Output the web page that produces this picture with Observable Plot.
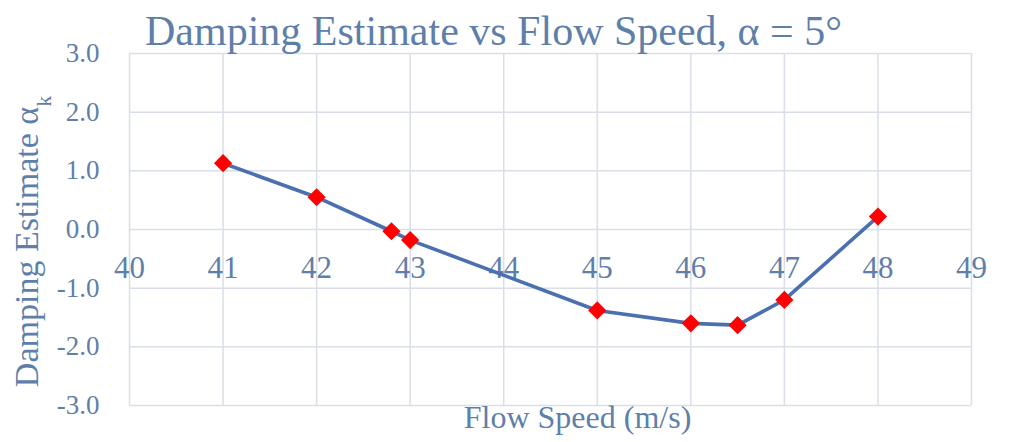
<!DOCTYPE html>
<html>
<head>
<meta charset="utf-8">
<script src="https://cdn.jsdelivr.net/npm/d3@7"></script>
<script src="https://cdn.jsdelivr.net/npm/@observablehq/plot@0.6"></script>
<style>
  html, body { margin: 0; padding: 0; background: #fff; }
  #wrap { position: relative; width: 1024px; height: 442px; overflow: hidden; }
  #title { position: absolute; top: 10px; left: 145px; font-family: "Liberation Serif", "Times New Roman", serif; font-size: 42px; line-height: 42px; color: #5f7fab; white-space: nowrap; z-index: 2; }
  #chart { position: absolute; top: 20px; left: 0; }
</style>
</head>
<body>
<div id="wrap">
  <div id="title">Damping Estimate vs Flow Speed, α = 5°</div>
  <div id="chart"></div>
</div>
<script>
const flowSpeed = [41, 42, 42.8, 43, 45, 46, 46.5, 47, 48];
const damping = [1.13, 0.55, -0.03, -0.18, -1.38, -1.60, -1.63, -1.20, 0.22];
const xTicks = [40, 41, 42, 43, 44, 45, 46, 47, 48, 49];
const yTicks = [-3, -2, -1, 0, 1, 2, 3];

const data = flowSpeed.map((x, i) => ({x, y: damping[i]}));
const textColor = "#5f7fab";
const gridColor = "#d9dee8";
const font = "Liberation Serif, Times New Roman, serif";

const chart = Plot.plot({
  width: 1024,
  height: 422,
  marginTop: 33,
  marginBottom: 37,
  marginLeft: 129,
  marginRight: 53,
  style: {fontFamily: font, color: textColor, background: "transparent", overflow: "visible"},
  x: {domain: [40, 49], axis: null},
  y: {domain: [-3, 3], axis: null},
  marks: [
    Plot.gridX(xTicks, {stroke: gridColor, strokeOpacity: 1, strokeWidth: 1.5}),
    Plot.gridY(yTicks, {stroke: gridColor, strokeOpacity: 1, strokeWidth: 1.5}),
    Plot.axisY(yTicks, {tickSize: 0, tickPadding: 30, fontSize: 27, tickFormat: d => d.toFixed(1), label: null, fill: textColor}),
    Plot.text(xTicks, {x: d => d, y: () => 0, text: d => String(d), dy: 39, fontSize: 31, fill: textColor}),
    Plot.text(["Flow Speed (m/s)"], {frameAnchor: "bottom", text: d => d, dy: 22, dx: 27, fontSize: 32, fill: textColor, lineAnchor: "bottom"}),
    Plot.text(["Damping Estimate α"], {frameAnchor: "left", textAnchor: "middle", text: d => d, rotate: -90, dx: -102, dy: 12, fontSize: 34, fill: textColor}),
    Plot.line(data, {x: "x", y: "y", stroke: "#4a70b0", strokeWidth: 3.6}),
    Plot.dot(data, {x: "x", y: "y", symbol: "diamond2", r: 8.2, fill: "#ff0000", stroke: "none"})
  ]
});
document.getElementById("chart").appendChild(chart);

// add subscript k to the rotated y label
const svg = d3.select(chart);
svg.selectAll("text").filter(function() { return d3.select(this).text() === "Damping Estimate α"; })
  .each(function() {
    const t = d3.select(this);
    const content = t.text();
    const target = t.select("tspan").empty() ? t : t.select("tspan");
    target.text(content);
    target.append("tspan").attr("baseline-shift", "sub").attr("font-size", "22").text("k");
  });
</script>
</body>
</html>
